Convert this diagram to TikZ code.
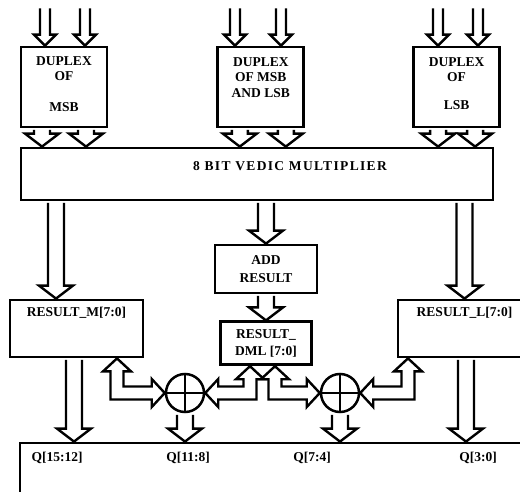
\documentclass[tikz,border=0pt]{standalone}
\usepackage{fontspec}
\setmainfont{Liberation Serif}
\usetikzlibrary{positioning, calc}

% hollow block arrow pointing down, from #1 to the height of #2
\newcommand{\blockdown}[5]{%
  \filldraw[blockline] let \p1=(#1), \p2=(#2) in
    ({\x1-#3},{\y1-1.5pt}) -- ({\x1-#3},{\y2+#5}) -- ({\x1-#4},{\y2+#5}) -- (\x1,\y2)
    -- ({\x1+#4},{\y2+#5}) -- ({\x1+#3},{\y2+#5}) -- ({\x1+#3},{\y1-1.5pt});
}
\newcommand{\thinarrow}[2]{\blockdown{#1}{#2}{5pt}{11pt}{11pt}}
\newcommand{\fatarrow}[2]{\blockdown{#1}{#2}{8pt}{17pt}{13pt}}
% hollow two-headed arrow: up to #1, bent, sideways to #2 (#3 = 1 right, -1 left)
\newcommand{\blockbend}[3]{%
  \filldraw[blockline] let \p1=(#1), \p2=(#2) in
    (\x1,\y1) -- ({\x1+(#3)*14pt},{\y1-13pt}) -- ({\x1+(#3)*6.5pt},{\y1-13pt})
    -- ({\x1+(#3)*6.5pt},{\y2+6.5pt}) -- ({\x2-(#3)*13pt},{\y2+6.5pt}) -- ({\x2-(#3)*13pt},{\y2+14pt})
    -- (\x2,\y2) -- ({\x2-(#3)*13pt},{\y2-14pt}) -- ({\x2-(#3)*13pt},{\y2-6.5pt})
    -- ({\x1-(#3)*6.5pt},{\y2-6.5pt}) -- ({\x1-(#3)*6.5pt},{\y1-13pt}) -- ({\x1-(#3)*14pt},{\y1-13pt}) -- cycle;
}

\begin{document}
\begin{tikzpicture}[
    x=1pt, y=-1pt,
    font=\bfseries\fontsize{13.5}{15.5}\selectfont,
    box/.style={rectangle, draw, line width=2.8pt, inner sep=0pt, align=center},
    dupbox/.style={box, minimum width=86pt, minimum height=80pt, text depth=6pt},
    resbox/.style={box, minimum width=133pt, minimum height=57pt, text height=10pt, text depth=34pt},
    xor/.style={circle, draw, line width=2.5pt, minimum size=38pt, inner sep=0pt},
    xorline/.style={line width=2.2pt},
    blockline/.style={fill=white, draw=black, line width=2.4pt},
    qlabel/.style={anchor=base, inner sep=0pt}
  ]
  \useasboundingbox (0,0) rectangle (520,492);

  % Nodes
  \node (dupM) [dupbox] at (64,87) {DUPLEX\\OF\\[15pt]MSB};
  \node (dupML) [dupbox, right=108pt of dupM, text depth=19pt] {DUPLEX\\OF MSB\\AND LSB};
  \node (dupL) [dupbox, right=107pt of dupML, text depth=7pt] {DUPLEX\\OF\\[12pt]LSB};

  \node (mult) [box, minimum width=472pt, minimum height=52pt, text height=10pt, text depth=17pt] at (257,174)
    {\hspace*{66pt}\addfontfeature{LetterSpace=10}8 BIT VEDIC MULTIPLIER};

  \node (add) [box, minimum width=102pt, minimum height=48pt] at (266,269) {ADD\\[2pt]RESULT};
  \node (dml) [box, minimum width=91pt, minimum height=43pt, below=26pt of add] {RESULT\_\\[2pt]DML [7:0]};

  \node (resM) [resbox] at (76.5,328.5) {RESULT\_M[7:0]};
  \node (resL) [resbox] at (464.5,328.5) {RESULT\_L[7:0]};

  \node (xorL) [xor] at (185,393) {};
  \node (xorR) [xor] at (340,393) {};

  \node (qbus) [box, minimum width=540pt, minimum height=77pt] at (290,481.5) {};
  \node (q1512) [qlabel] at (57,461.5) {Q[15:12]};
  \node (q118) [qlabel] at (188,461.5) {Q[11:8]};
  \node (q74) [qlabel] at (312,461.5) {Q[7:4]};
  \node (q30) [qlabel] at (478,461.5) {Q[3:0]};

  \coordinate (inM1) at (45,7);
  \coordinate (inM2) at (85,7);
  \coordinate (inML1) at (235,7);
  \coordinate (inML2) at (281,7);
  \coordinate (inL1) at (438,7);
  \coordinate (inL2) at (478,7);

  % Arrows
  \thinarrow{inM1}{dupM.north}
  \thinarrow{inM2}{dupM.north}
  \thinarrow{inML1}{dupML.north}
  \thinarrow{inML2}{dupML.north}
  \thinarrow{inL1}{dupL.north}
  \thinarrow{inL2}{dupL.north}

  \fatarrow{[xshift=-22pt]dupM.south}{mult.north}
  \fatarrow{[xshift=22pt]dupM.south}{mult.north}
  \fatarrow{[xshift=-21pt]dupML.south}{mult.north}
  \fatarrow{[xshift=25pt]dupML.south}{mult.north}
  \fatarrow{[xshift=-18.5pt]dupL.south}{mult.north}
  \fatarrow{[xshift=18.5pt]dupL.south}{mult.north}

  \fatarrow{[xshift=-20.5pt]resM.north |- mult.south}{resM.north}
  \fatarrow{add.north |- mult.south}{add.north}
  \fatarrow{resL.north |- mult.south}{resL.north}
  \fatarrow{add.south}{dml.north}

  \blockbend{[xshift=40.5pt]resM.south}{xorL.west}{1}
  \blockbend{[xshift=-16pt]dml.south}{xorL.east}{-1}
  \blockbend{[xshift=9pt]dml.south}{xorR.west}{1}
  \blockbend{[xshift=-56.5pt]resL.south}{xorR.east}{-1}

  \fatarrow{[xshift=-2.5pt]resM.south}{qbus.north}
  \fatarrow{[xshift=1.5pt]resL.south}{qbus.north}
  \fatarrow{xorL.south}{qbus.north}
  \fatarrow{xorR.south}{qbus.north}

  \draw [xorline] (xorL.north) -- (xorL.south) (xorL.west) -- (xorL.east);
  \draw [xorline] (xorR.north) -- (xorR.south) (xorR.west) -- (xorR.east);
\end{tikzpicture}
\end{document}
